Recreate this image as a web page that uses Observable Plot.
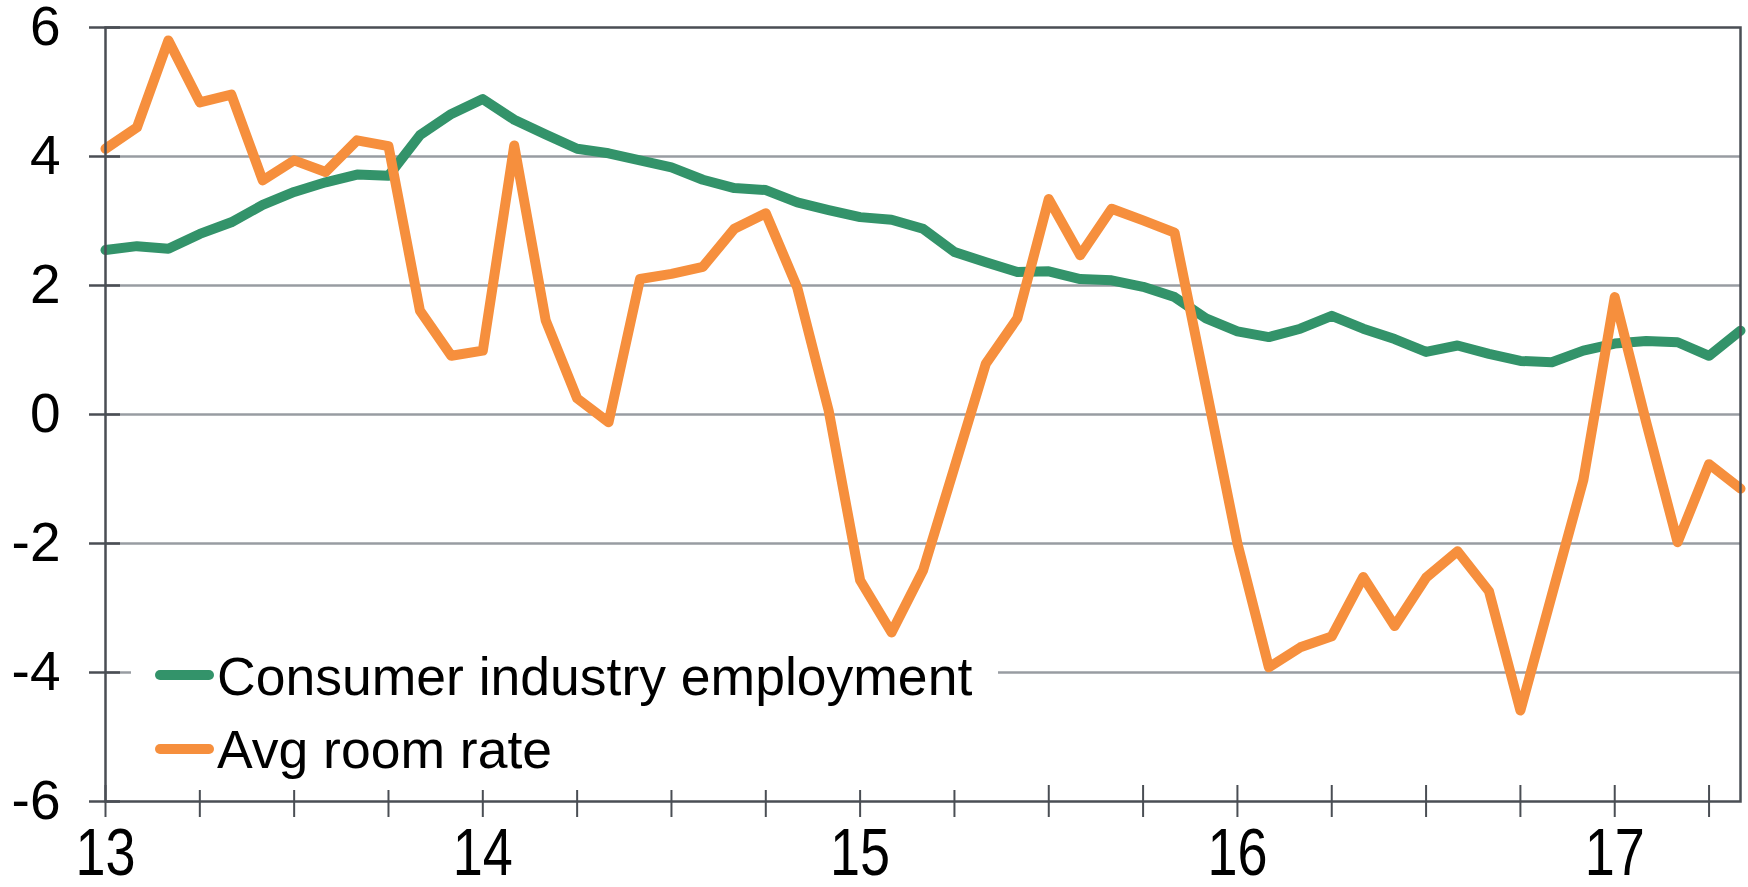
<!DOCTYPE html>
<html>
<head>
<meta charset="utf-8">
<script src="https://cdn.jsdelivr.net/npm/d3@7"></script>
<script src="https://cdn.jsdelivr.net/npm/@observablehq/plot@0.6"></script>
<style>
  html, body { margin: 0; padding: 0; background: #fff; }
  #wrap { position: relative; width: 1748px; height: 887px; }
  #legend { position: absolute; left: 0; top: 0; pointer-events: none; }
</style>
</head>
<body>
<div id="wrap"></div>
<script>
// ---- data ----
const months = [
  "2013-01","2013-02","2013-03","2013-04","2013-05","2013-06","2013-07","2013-08","2013-09","2013-10","2013-11","2013-12",
  "2014-01","2014-02","2014-03","2014-04","2014-05","2014-06","2014-07","2014-08","2014-09","2014-10","2014-11","2014-12",
  "2015-01","2015-02","2015-03","2015-04","2015-05","2015-06","2015-07","2015-08","2015-09","2015-10","2015-11","2015-12",
  "2016-01","2016-02","2016-03","2016-04","2016-05","2016-06","2016-07","2016-08","2016-09","2016-10","2016-11","2016-12",
  "2017-01","2017-02","2017-03","2017-04","2017-05"
];
const employment = [
  2.55, 2.61, 2.57, 2.80, 2.98, 3.25, 3.45, 3.60, 3.72, 3.70, 4.33, 4.66,
  4.89, 4.57, 4.34, 4.12, 4.05, 3.94, 3.83, 3.64, 3.51, 3.48, 3.29, 3.17,
  3.06, 3.02, 2.88, 2.52, 2.36, 2.21, 2.22, 2.10, 2.08, 1.98, 1.82, 1.49,
  1.29, 1.20, 1.33, 1.53, 1.33, 1.17, 0.97, 1.07, 0.94, 0.83, 0.81, 0.99,
  1.10, 1.14, 1.12, 0.91, 1.30
];
const roomRate = [
  4.12, 4.45, 5.80, 4.84, 4.96, 3.63, 3.94, 3.76, 4.25, 4.16, 1.61, 0.91,
  0.99, 4.17, 1.46, 0.25, -0.12, 2.10, 2.18, 2.29, 2.88, 3.12, 1.97, 0.06,
  -2.57, -3.38, -2.42, -0.82, 0.79, 1.49, 3.34, 2.47, 3.19, 3.01, 2.82, 0.42,
  -2.00, -3.92, -3.61, -3.44, -2.52, -3.28, -2.53, -2.12, -2.74, -4.59, -2.80, -1.02,
  1.82, -0.12, -1.98, -0.77, -1.15
];
const seriesNames = ["Consumer industry employment", "Avg room rate"];
const seriesColors = ["#33936a", "#f68f3d"];
const yTicks = [-6, -4, -2, 0, 2, 4, 6];
const gridTicks = [-4, -2, 0, 2, 4];
const quarterTicks = [
  "2013-01","2013-04","2013-07","2013-10","2014-01","2014-04","2014-07","2014-10",
  "2015-01","2015-04","2015-07","2015-10","2016-01","2016-04","2016-07","2016-10",
  "2017-01","2017-04"
];
const yearLabels = ["13", "14", "15", "16", "17"];

// ---- helpers ----
const toX = s => (+s.slice(0, 4) - 2000) + (+s.slice(5, 7) - 1) / 12;
const empData = months.map((m, i) => ({x: toX(m), y: employment[i]}));
const rateData = months.map((m, i) => ({x: toX(m), y: roomRate[i]}));
const axisColor = "#4a4e54";
const gridColor = "#989ca2";
const font = "'Liberation Sans', Arial, Helvetica, sans-serif";

const W = 1748, H = 887;
const chart = Plot.plot({
  width: W,
  height: H,
  marginLeft: 105,
  marginRight: 8,
  marginTop: 27,
  marginBottom: 86,
  style: {fontFamily: font, color: "#000", background: "#fff", overflow: "visible"},
  x: {domain: [toX(months[0]), toX(months[months.length - 1])], label: null},
  y: {domain: [-6, 6], label: null},
  marks: [
    Plot.gridY(gridTicks, {stroke: gridColor, strokeOpacity: 1, strokeWidth: 2.5}),
    Plot.line(empData, {x: "x", y: "y", stroke: seriesColors[0], strokeWidth: 10,
      strokeLinejoin: "round", strokeLinecap: "round"}),
    Plot.line(rateData, {x: "x", y: "y", stroke: seriesColors[1], strokeWidth: 10,
      strokeLinejoin: "round", strokeLinecap: "round"}),
    Plot.frame({stroke: axisColor, strokeWidth: 2.5}),
    // y cross ticks
    Plot.axisY({ticks: yTicks, tickSize: 31, dx: 15, tickFormat: () => "", label: null,
      stroke: axisColor, strokeWidth: 2.5}),
    // y labels
    Plot.axisY({ticks: yTicks, tickSize: 0, tickPadding: 45, fontSize: 55, label: null,
      tickFormat: d => String(d), fill: "#000"}),
    // x cross ticks
    Plot.axisX({ticks: quarterTicks.map(toX), tickSize: 32, dy: -16, tickFormat: () => "", label: null,
      stroke: axisColor, strokeWidth: 2}),
    // x labels
    Plot.axisX({ticks: yearLabels.map(Number), tickSize: 0, tickPadding: 27, fontSize: 54, label: null,
      tickFormat: d => String(d), fill: "#000"})
  ]
});
const wrap = document.getElementById("wrap");
wrap.appendChild(chart);

// stretch x tick labels vertically, as in the reference
d3.select(chart).selectAll("g[aria-label='x-axis tick label'] text").each(function() {
  const t = this.getAttribute("transform") || "";
  this.setAttribute("transform", t + " scale(1,1.22)");
});

// ---- legend overlay ----
const leg = d3.select(wrap).append("svg")
  .attr("id", "legend")
  .attr("width", W).attr("height", H);
leg.append("rect").attr("x", 131).attr("y", 645).attr("width", 867).attr("height", 145).attr("fill", "#fff");
const rows = [{cy: 675, base: 695}, {cy: 749, base: 768}];
seriesNames.forEach((name, i) => {
  leg.append("line")
    .attr("x1", 160).attr("x2", 209)
    .attr("y1", rows[i].cy).attr("y2", rows[i].cy)
    .attr("stroke", seriesColors[i]).attr("stroke-width", 10).attr("stroke-linecap", "round");
  leg.append("text")
    .attr("x", 217).attr("y", rows[i].base)
    .attr("font-family", font).attr("font-size", 53.5).attr("fill", "#000")
    .text(name);
});
</script>
</body>
</html>
